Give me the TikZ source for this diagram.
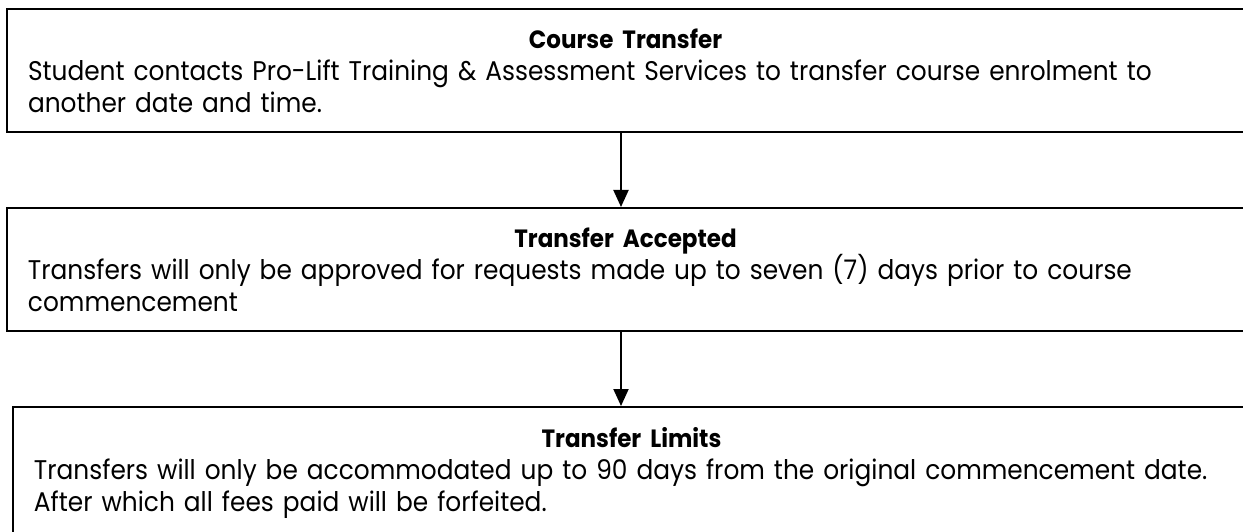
\documentclass[tikz,border=0pt]{standalone}
\usepackage{fontspec}
\setmainfont[FakeStretch=0.92]{Poppins}
\usetikzlibrary{arrows.meta,positioning}
\newcommand{\boxhead}[1]{\makebox[1195pt]{\fontsize{25}{27}\selectfont\bfseries #1}\\}

\begin{document}
\begin{tikzpicture}[x=1pt, y=-1pt,
  box/.style={draw, line width=2pt, minimum width=1252pt, minimum height=123pt,
              text width=1210pt, inner xsep=21pt, inner ysep=0pt, align=left,
              font=\fontsize{27}{32}\selectfont},
  arr/.style={-{Triangle[width=15pt,length=17pt]}, line width=2pt}
]
  \useasboundingbox (0,0) rectangle (1243,532);
  \clip (0,0) rectangle (1243,532);
  \node[box, anchor=north west] (transfer) at (6,8) {\boxhead{Course Transfer}Student contacts Pro-Lift Training \& Assessment Services to transfer course enrolment to\\another date and time.};
  \node[box, below=74pt of transfer] (accepted) {\boxhead{Transfer Accepted}Transfers will only be approved for requests made up to seven (7) days prior to course\\commencement};
  \node[box, minimum height=132pt, below=74pt of accepted, xshift=6pt] (limits) {\boxhead{Transfer Limits}Transfers will only be accommodated up to 90 days from the original commencement date.\\After which all fees paid will be forfeited.\par\vspace*{9pt}};
  \draw[arr] ([xshift=-12pt]transfer.south) -- ([xshift=-12pt]accepted.north);
  \draw[arr] ([xshift=-12pt]accepted.south) -- ([xshift=-18pt]limits.north);
\end{tikzpicture}
\end{document}
